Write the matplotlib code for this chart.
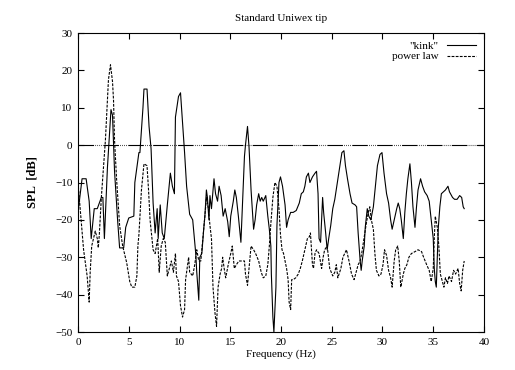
import numpy as np
import matplotlib
matplotlib.use('Agg')
import matplotlib.pyplot as plt

# "kink" series
kink_f = [0.0, 0.4, 0.8, 1.1, 1.3, 1.6, 1.9, 2.3, 2.45, 2.6, 2.9, 3.25, 3.4, 3.6, 3.9, 4.1, 4.5, 4.7,
          5.0, 5.5, 5.6, 5.8, 6.0, 6.1, 6.4, 6.5, 6.8, 7.0, 7.2, 7.4, 7.6, 7.8, 7.9, 8.1, 8.3, 8.5,
          8.8, 9.1, 9.3, 9.5, 9.6, 9.9, 10.1, 10.3, 10.5, 10.7, 11.0, 11.3, 11.6, 11.7, 11.9, 12.0,
          12.2, 12.4, 12.5, 12.65, 12.75, 12.9, 13.0, 13.15, 13.3, 13.4, 13.55, 13.75, 13.9, 14.1,
          14.3, 14.5, 14.75, 14.9, 15.05, 15.3, 15.45, 15.6, 15.8, 16.05, 16.2, 16.4, 16.5, 16.7,
          16.85, 17.05, 17.3, 17.45, 17.6, 17.8, 17.95, 18.1, 18.25, 18.5, 18.7, 18.85, 19.0, 19.05,
          19.2, 19.3, 19.5, 19.6, 19.8, 19.95, 20.15, 20.4, 20.55, 20.7, 20.95, 21.2, 21.5, 21.8,
          22.0, 22.2, 22.35, 22.5, 22.7, 22.85, 23.1, 23.35, 23.5, 23.65, 23.75, 23.9, 24.0, 24.1,
          24.2, 24.4, 24.55, 24.7, 24.9, 25.1, 25.3, 25.55, 25.8, 26.0, 26.2, 26.35, 26.55, 26.8,
          27.0, 27.3, 27.45, 27.6, 27.8, 27.9, 28.0, 28.2, 28.3, 28.5, 28.65, 28.85, 29.1, 29.3,
          29.5, 29.75, 29.95, 30.15, 30.4, 30.6, 30.8, 30.95, 31.15, 31.4, 31.55, 31.7, 31.85, 32.05,
          32.2, 32.35, 32.5, 32.7, 32.85, 33.0, 33.2, 33.35, 33.5, 33.75, 33.95, 34.15, 34.4, 34.6,
          34.8, 35.0, 35.1, 35.2, 35.3, 35.5, 35.65, 35.8, 36.0, 36.2, 36.45, 36.6, 36.9, 37.1,
          37.35, 37.6, 37.8, 37.95, 38.05]
kink_db = [-18, -9, -9, -15, -25, -17, -17, -14, -14, -25, -6, 9.5, 8, -7, -20, -27.5, -27.5, -22,
           -19.5, -19, -10, -6, -2, -2, 10, 15, 15, 5, -1, -15.5, -23.5, -17, -25, -16, -23.5, -25,
           -16, -7.5, -11, -13, 7.5, 13, 14, 6, -2, -11, -18.5, -20, -29, -34, -41.5, -30,
           -29, -22, -19, -12, -14, -20, -13.5, -17, -12, -9, -13, -15, -11, -13.5,
           -19, -17, -20.5, -24.5, -19, -15, -12, -14, -19, -26, -16, -3, 0, 5,
           -0.5, -12, -22.5, -20, -16, -13, -15, -14, -15, -13.5, -19, -22.5, -27, -34.5,
           -46, -50, -38, -21.5, -10, -8.5, -11, -16, -22, -20, -18, -18, -17.5, -15.5,
           -13, -12.5, -11, -8.5, -7.5, -10, -8.5, -7.5, -7, -13, -25, -26, -20, -14,
           -18, -23.5, -28, -25, -21.5, -17, -14.5, -10, -5.5, -2, -1.5, -5.5, -9, -13,
           -15.5, -16, -16.5, -23.5, -31, -33.5, -31, -27, -22, -17, -19, -20, -16.5, -11,
           -5.5, -2.5, -2, -7.5, -13, -15.5, -20, -22.5, -20, -17, -15.5, -17, -20, -25,
           -18, -13, -9, -5, -10, -16.5, -22, -16.5, -12, -9, -11, -12.5, -13.5, -15,
           -20, -25, -33, -36.5, -38, -22, -16.5, -13, -12.5, -12, -11, -12.5, -14, -14.5,
           -14.5, -13.5, -14, -16.5, -17]

# "power law" series
power_f = [0.0, 0.3, 0.55, 0.9, 1.1, 1.2, 1.35, 1.7, 1.9, 2.0, 2.1, 2.3, 2.7, 3.0, 3.2, 3.4, 3.5,
           3.6, 3.8, 4.1, 4.4, 4.8, 5.1, 5.3, 5.6, 5.8, 5.9, 6.0, 6.25, 6.5, 6.8, 6.95, 7.1, 7.4,
           7.6, 7.85, 8.0, 8.2, 8.4, 8.6, 8.8, 9.0, 9.2, 9.4, 9.6, 9.7, 9.9, 10.1, 10.3, 10.5,
           10.6, 10.9, 11.0, 11.3, 11.5, 11.7, 11.9, 12.1, 12.3, 12.5, 12.65, 12.85, 13.0, 13.15,
           13.3, 13.5, 13.65, 13.8, 14.0, 14.15, 14.25, 14.4, 14.55, 14.8, 15.05, 15.2, 15.4, 15.6,
           15.85, 16.1, 16.4, 16.5, 16.7, 16.85, 17.05, 17.3, 17.5, 17.8, 18.05, 18.25, 18.5, 18.7,
           18.85, 19.0, 19.2, 19.4, 19.6, 19.8, 19.95, 20.1, 20.25, 20.4, 20.55, 20.7, 20.8, 20.95,
           21.05, 21.2, 21.45, 21.7, 21.9, 22.1, 22.35, 22.6, 22.8, 22.9, 23.1, 23.2, 23.35, 23.5,
           23.75, 24.0, 24.15, 24.3, 24.55, 24.8, 25.1, 25.3, 25.45, 25.6, 25.9, 26.1, 26.45, 26.7,
           26.95, 27.2, 27.45, 27.6, 27.8, 27.95, 28.2, 28.4, 28.6, 28.75, 28.9, 29.1, 29.25, 29.4,
           29.65, 29.85, 30.05, 30.2, 30.4, 30.6, 30.8, 30.95, 31.15, 31.3, 31.5, 31.65, 31.8, 32.05,
           32.2, 32.4, 32.6, 32.85, 33.2, 33.5, 33.85, 34.05, 34.35, 34.6, 34.8, 35.0, 35.1, 35.2,
           35.4, 35.55, 35.7, 35.9, 36.05, 36.2, 36.4, 36.55, 36.8, 37.0, 37.2, 37.45, 37.6, 37.75,
           37.9, 38.05]
power_db = [-10, -20, -28, -35, -42, -34, -27, -23, -25, -27.5, -24, -14, 1.3, 17.5, 21.5, 17, 12,
            1.3, -9, -21.5, -27, -31.5, -36.5, -38, -38, -35, -27, -24, -12, -5, -5.5, -12, -20, -28,
            -29, -25, -34, -27, -25, -26, -35, -33, -31, -34, -29, -35, -36.5, -43, -46, -44,
            -36, -30, -34, -35, -32, -28, -31, -31, -25, -19, -14, -17, -21.5, -25,
            -38, -45, -48.5, -38, -34.5, -33, -30, -33, -35.5, -32, -29, -27, -33, -32,
            -31, -31, -31, -34.5, -37.5, -33, -27, -28, -29, -31, -34, -35.5, -35, -32,
            -27, -21, -14, -10, -11, -17, -24, -28, -29, -31, -33, -36, -42, -44,
            -36, -36, -35.5, -34.5, -33, -31, -28, -25, -24.5, -23.5, -32, -33, -29, -28,
            -29, -33, -30, -28, -27, -33, -35, -34, -32, -35.5, -33, -30, -28, -31,
            -34.5, -36, -33.5, -32, -31, -29, -24.5, -21, -18, -16.5, -20, -22.5, -29, -33.5,
            -35, -34.5, -32, -28, -29.5, -33.5, -35.5, -38, -31, -28, -27, -31, -38, -34.5,
            -33, -32, -30, -29, -28.5, -28, -28.5, -30, -32, -33.5, -36.5, -33, -25, -19,
            -22, -27, -34.5, -36.5, -38, -35.5, -37, -35, -36.5, -33.5, -34.5, -33, -37, -39,
            -33.5, -31]

x_ticks = [0, 5, 10, 15, 20, 25, 30, 35, 40]
y_ticks = [-50, -40, -30, -20, -10, 0, 10, 20, 30]

plt.rcParams['font.family'] = ['Liberation Serif', 'DejaVu Serif']
plt.rcParams['font.size'] = 8

fig = plt.figure(figsize=(5.15, 3.70), dpi=100)
ax = fig.add_axes([78/515, 1-332/370, (484-78)/515, (332-33)/370])

# gnuplot-style zero axis: long dash then a run of dots
ax.axhline(0, color='black', lw=0.8,
           linestyle=(0, (14, 1.2, 0.6, 1.2, 0.6, 1.2, 0.6, 1.2, 0.6, 1.2)))
ax.plot(kink_f, kink_db, color='black', lw=0.8, label='"kink"')
ax.plot(power_f, power_db, color='black', lw=0.8, linestyle=(0, (2.5, 1.2)), label='power law')

ax.set_xlim(0, 40)
ax.set_ylim(-50, 30)
ax.set_xticks(x_ticks)
ax.set_yticks(y_ticks)
ax.tick_params(direction='in', length=4, width=0.8, top=True, right=True, pad=4)
for s in ax.spines.values():
    s.set_linewidth(0.8)

ax.set_title('Standard Uniwex tip', fontsize=8, pad=9)
ax.set_xlabel('Frequency (Hz)', labelpad=2)
ax.set_ylabel('SPL  [dB]', fontweight='bold', fontsize=9, labelpad=12)

ax.legend(loc='upper right', frameon=False, markerfirst=False, handlelength=2.6,
          handletextpad=0.8, borderaxespad=0.3, labelspacing=0.1)

fig.savefig('out.png', dpi=100)
